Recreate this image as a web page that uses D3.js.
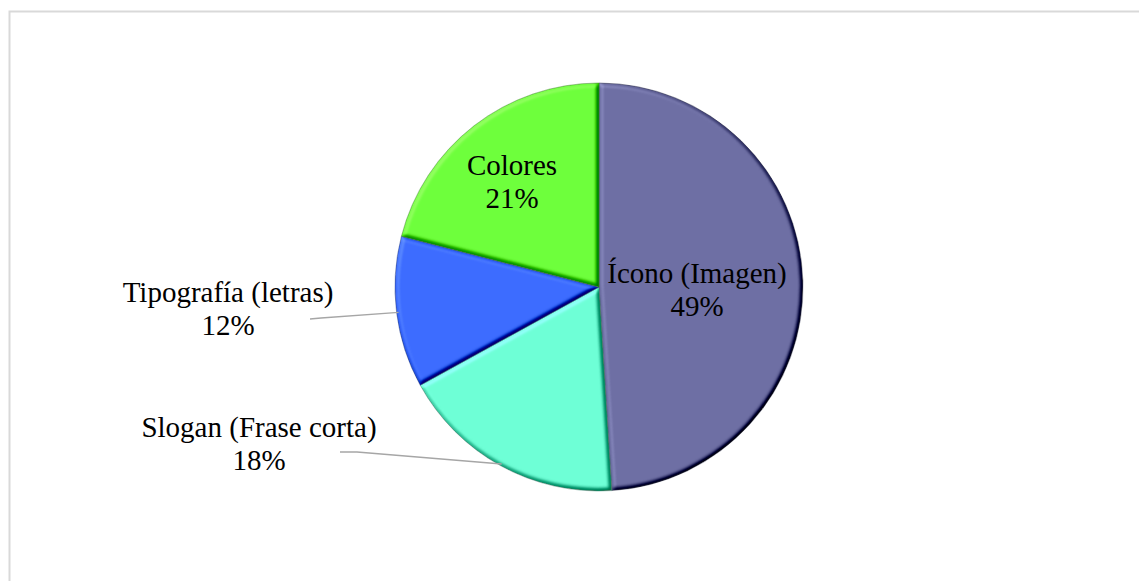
<!DOCTYPE html>
<html>
<head>
<meta charset="utf-8">
<script src="https://cdn.jsdelivr.net/npm/d3@7"></script>
<style>
  html, body { margin: 0; padding: 0; background: #fff; }
  svg { display: block; }
</style>
</head>
<body>
<svg id="chart" width="1139" height="581"></svg>
<script>
// Shares of each logo element (percent), in drawing order clockwise from 12 o'clock
const categories = ["Ícono (Imagen)", "Slogan (Frase corta)", "Tipografía (letras)", "Colores"];
const shares = [49, 18, 12, 21];
const sliceColors = ["#6e6fa4", "#6effd6", "#3d6cff", "#6eff3c"];

// Label placement (centre x, first baseline y) and leader lines for outside labels
const labelLayout = {
  "Ícono (Imagen)":       { x: 697, y: 283, inside: true },
  "Slogan (Frase corta)": { x: 259, y: 437, inside: false, elbow: [[340, 452], [357, 452]] },
  "Tipografía (letras)":  { x: 228, y: 302, inside: false, elbow: [[310, 319], [321, 318]] },
  "Colores":              { x: 512, y: 175, inside: true }
};

const svg = d3.select("#chart");
const cx = 599, cy = 287, R = 204;
const fontSize = 29, lineGap = 33;

// soft bevel: lit from the upper left, shaded toward the lower right
const defs = svg.append("defs");
const bevel = defs.append("filter")
  .attr("id", "bevel")
  .attr("x", "-5%").attr("y", "-5%").attr("width", "110%").attr("height", "110%")
  .attr("color-interpolation-filters", "sRGB");
bevel.append("feGaussianBlur")
  .attr("in", "SourceAlpha").attr("stdDeviation", 2.2).attr("result", "bump");
bevel.append("feDiffuseLighting")
  .attr("in", "bump").attr("surfaceScale", 4).attr("diffuseConstant", 1)
  .attr("lighting-color", "#ffffff").attr("result", "lit")
  .append("feDistantLight").attr("azimuth", 225).attr("elevation", 55);
bevel.append("feComposite")
  .attr("in", "SourceGraphic").attr("in2", "lit")
  .attr("operator", "arithmetic")
  .attr("k1", 0).attr("k2", 1).attr("k3", 0.75).attr("k4", -0.614)
  .attr("result", "shaded");
bevel.append("feComposite")
  .attr("in", "shaded").attr("in2", "SourceAlpha").attr("operator", "in");

// chart area frame
svg.append("rect")
  .attr("x", 9.5).attr("y", 11.5)
  .attr("width", 1160).attr("height", 600)
  .attr("fill", "#fff")
  .attr("stroke", "#d9d9d9").attr("stroke-width", 2);

const data = categories.map((c, i) => ({ name: c, value: shares[i], color: sliceColors[i] }));

const pie = d3.pie().value(d => d.value).sort(null);
const arcs = pie(data);
const arc = d3.arc().innerRadius(0).outerRadius(R);

const g = svg.append("g").attr("transform", `translate(${cx},${cy})`);

const slices = g.selectAll("g.slice").data(arcs).join("g").attr("class", "slice");

slices.append("path")
  .attr("d", arc)
  .attr("fill", d => d.data.color)
  .attr("filter", "url(#bevel)");

// thin darker outline
slices.append("path")
  .attr("d", arc)
  .attr("fill", "none")
  .attr("stroke", d => d3.color(d.data.color).darker(1.6))
  .attr("stroke-opacity", 0.5)
  .attr("stroke-width", 1)
  .attr("stroke-linejoin", "round");

// leader lines for outside labels
const edgeArc = d3.arc().innerRadius(R - 2).outerRadius(R - 2);
arcs.forEach(a => {
  const L = labelLayout[a.data.name];
  if (L.inside) return;
  const [ex, ey] = edgeArc.centroid(a);
  const pts = L.elbow.concat([[cx + ex, cy + ey]]);
  svg.append("path")
    .attr("d", d3.line()(pts))
    .attr("fill", "none")
    .attr("stroke", "#a6a6a6")
    .attr("stroke-width", 1.3);
});

// data labels: category name and percentage
arcs.forEach(a => {
  const L = labelLayout[a.data.name];
  const t = svg.append("text")
    .attr("text-anchor", "middle")
    .attr("font-family", "'Liberation Serif', 'Times New Roman', serif")
    .attr("font-size", fontSize)
    .attr("fill", "#000");
  t.append("tspan").attr("x", L.x).attr("y", L.y).text(a.data.name);
  t.append("tspan").attr("x", L.x).attr("y", L.y + lineGap).text(a.data.value + "%");
});
</script>
</body>
</html>
